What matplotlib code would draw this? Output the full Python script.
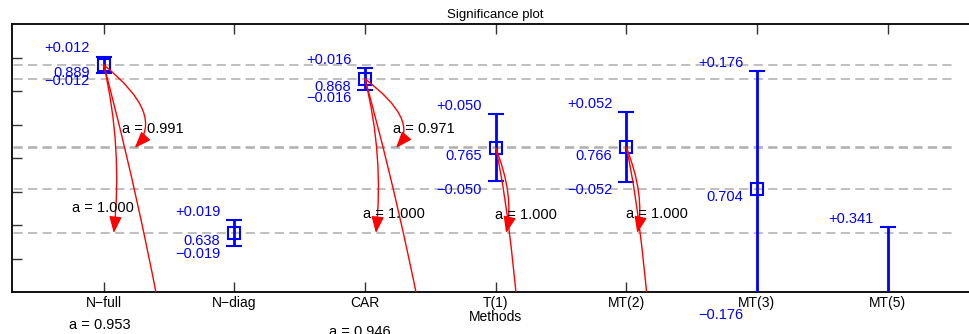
import matplotlib
matplotlib.use("Agg")
import matplotlib.pyplot as plt
from matplotlib.patches import FancyArrowPatch
from matplotlib.path import Path

plt.rcParams['font.family'] = ['Liberation Sans', 'DejaVu Sans']
plt.rcParams['font.size'] = 10

# ---- data ----
methods = ['N\u2212full', 'N\u2212diag', 'CAR', 'T(1)', 'MT(2)', 'MT(3)', 'MT(5)']
means = [0.889, 0.638, 0.868, 0.765, 0.766, 0.704, 0.306]
errs = [0.012, 0.019, 0.016, 0.050, 0.052, 0.176, 0.341]

# significance comparisons: (source index, target index, a value)
arrow_src = [0, 0, 0, 2, 2, 2, 3, 3, 4, 4]
arrow_tgt = [3, 1, 6, 3, 1, 6, 1, 6, 1, 6]
arrow_a = [0.991, 1.000, 0.953, 0.971, 1.000, 0.946, 1.000, None, 1.000, None]

# ---- layout of the curved arrows (end dx, control dx, control fraction, label offset pts) ----
arrow_shape = [
    (0.237, 0.474, 0.60, (13, 14)),
    (0.077, 0.145, 0.49, (-8, 18)),
    (0.620, 0.360, 0.45, (-61, 94)),
    (0.237, 0.420, 0.60, (20, 14)),
    (0.084, 0.145, 0.50, (13, 14)),
    (0.620, 0.360, 0.45, (-62, 89)),
    (0.080, 0.145, 0.56, (14, 13)),
    (0.250, 0.145, 0.27, (0, 0)),
    (0.084, 0.145, 0.56, (14, 14)),
    (0.250, 0.145, 0.27, (0, 0)),
]

W, H = 970, 334
fig = plt.figure(figsize=(W / 100, H / 100), dpi=100)
ax = fig.add_axes([12.3 / W, (H - 292) / H, (979 - 12.3) / W, 268 / H])

x = list(range(1, len(methods) + 1))

ax.set_xlim(0.3, 7.7)
ax.set_ylim(0.55, 0.95)

# dashed reference lines at each mean
for m in means:
    ln, = ax.plot([0.0, 7.5], [m, m], color=(0.68, 0.68, 0.68), lw=1.1, zorder=1)
    ln.set_dashes((6, 3.5))

# error bars
ax.errorbar(x, means, yerr=errs, fmt='s', mfc='none', mec='blue', ms=8, mew=1.5,
            ecolor='blue', elinewidth=2, capsize=6, capthick=2, color='blue', zorder=3)

# value labels
for xi, m, e in zip(x, means, errs):
    kw = dict(textcoords='offset points', ha='right', va='center', color='blue',
              annotation_clip=False, fontsize=10.5)
    ax.annotate(f'+{e:.3f}', (xi, m + e), xytext=(-10, 6), **kw)
    ax.annotate(f'{m:.3f}', (xi, m), xytext=(-10, -6), **kw)
    ax.annotate(f'\u2212{e:.3f}', (xi, m - e), xytext=(-10, -6), **kw)

# curved significance arrows
for s, t, a, (edx, cdx, cfrac, loff) in zip(arrow_src, arrow_tgt, arrow_a, arrow_shape):
    x0, y0 = x[s], means[s]
    x1, y1 = x0 + edx, means[t]
    cx, cy = x0 + cdx, y0 + cfrac * (y1 - y0)
    path = Path([(x0, y0), (cx, cy), (x1, y1)], [Path.MOVETO, Path.CURVE3, Path.CURVE3])
    arr = FancyArrowPatch(path=path, arrowstyle='-|>,head_length=1.0,head_width=0.38',
                          mutation_scale=10, color='red', lw=1.0, zorder=4)
    ax.add_patch(arr)
    if a is not None:
        ax.annotate(f'a = {a:.3f}', (x1, y1), xytext=loff, textcoords='offset points',
                    ha='center', va='center', color='black', annotation_clip=False,
                    fontsize=10.5, zorder=5)

# axes styling
ax.set_xticks(x)
ax.set_xticklabels(methods)
ax.set_yticks([0.60, 0.65, 0.70, 0.75, 0.80, 0.85, 0.90])
ax.set_yticklabels([])
ax.tick_params(axis='both', direction='in', length=7, width=1, color='#333333',
               top=True, right=True, labelsize=10, pad=3)
for sp in ax.spines.values():
    sp.set_linewidth(1.3)
    sp.set_color('black')
ax.set_xlabel('Methods', fontsize=10, labelpad=0)
ax.set_title('Significance plot', fontsize=9.5, pad=4)

fig.savefig('out.png', dpi=100)
